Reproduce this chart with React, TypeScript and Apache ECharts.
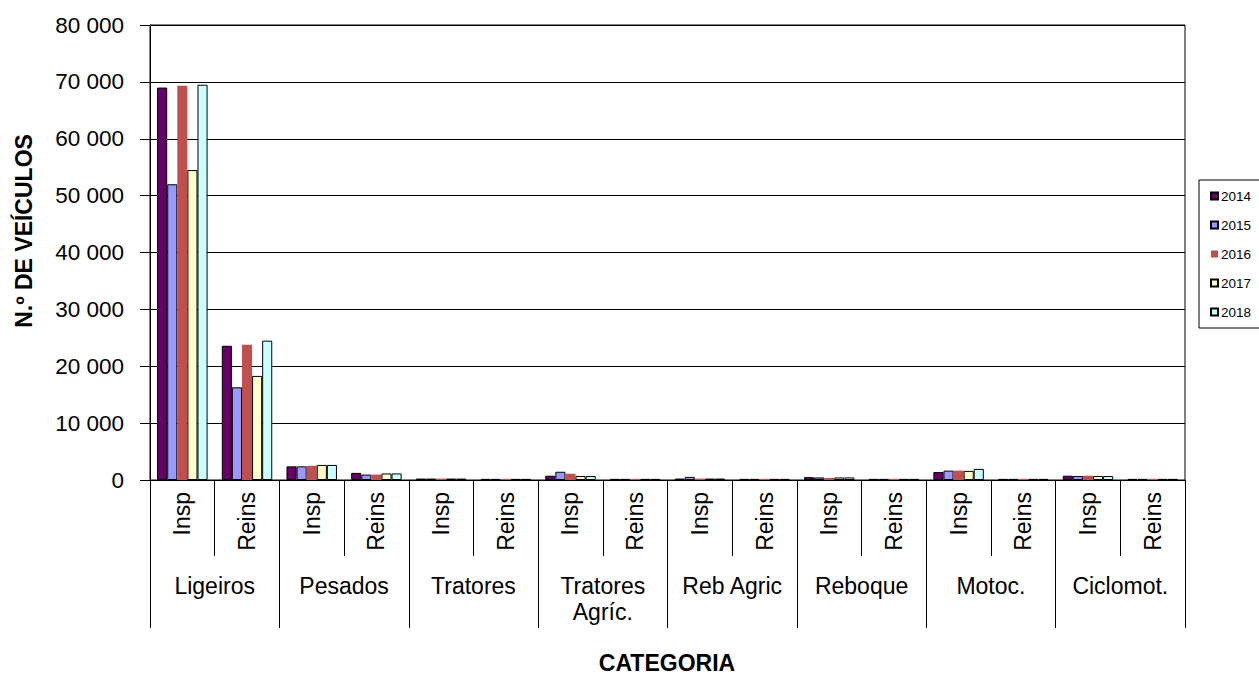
import React, { useEffect, useRef } from "react";
import * as echarts from "echarts";

const groups = ["Ligeiros", "Pesados", "Tratores", "Tratores\nAgríc.", "Reb Agric", "Reboque", "Motoc.", "Ciclomot."];
const subCategories = [
  "Insp", "Reins", "Insp", "Reins", "Insp", "Reins", "Insp", "Reins",
  "Insp", "Reins", "Insp", "Reins", "Insp", "Reins", "Insp", "Reins",
];
const years = ["2014", "2015", "2016", "2017", "2018"];
const values2014 = [69000, 23600, 2400, 1250, 250, 200, 750, 200, 250, 200, 500, 200, 1400, 200, 750, 200];
const values2015 = [52000, 16300, 2400, 950, 250, 200, 1450, 200, 550, 200, 450, 200, 1650, 200, 700, 200];
const values2016 = [69300, 23800, 2500, 950, 250, 200, 1100, 200, 250, 200, 350, 200, 1650, 200, 750, 200];
const values2017 = [54500, 18300, 2650, 1150, 250, 200, 700, 200, 250, 200, 450, 200, 1600, 200, 700, 200];
const values2018 = [69500, 24500, 2650, 1150, 250, 200, 700, 200, 250, 200, 450, 200, 1950, 200, 700, 200];
const yTicks = [0, 10000, 20000, 30000, 40000, 50000, 60000, 70000, 80000];

const seriesValues = [values2014, values2015, values2016, values2017, values2018];
const colors = ["#660066", "#9999FF", "#C0504D", "#FFFFCC", "#CCFFFF"];
const FONT = "'Liberation Sans', Arial, sans-serif";

export default function App() {
  const ref = useRef<HTMLDivElement>(null);
  useEffect(() => {
    if (!ref.current) return;
    const chart = echarts.init(ref.current, null, { renderer: "svg" });
    const fmt = (v: number) => String(v).replace(/\B(?=(\d{3})+(?!\d))/g, " ");
    chart.setOption({
      animation: false,
      textStyle: { fontFamily: FONT, color: "#000" },
      grid: {
        left: 150,
        right: 74,
        top: 25,
        bottom: 195,
        show: true,
        borderColor: "#000",
        borderWidth: 1,
        backgroundColor: "transparent",
      },
      legend: {
        orient: "vertical",
        left: 1199,
        top: 180,
        padding: [9, 40, 9, 11],
        borderColor: "#000",
        borderWidth: 1,
        itemWidth: 7,
        itemHeight: 7,
        itemGap: 15,
        icon: "rect",
        textStyle: { fontFamily: FONT, fontSize: 13.5, color: "#000", padding: [0, 0, 0, -2] },
        data: years,
      },
      xAxis: [
        {
          type: "category",
          data: subCategories,
          position: "bottom",
          axisLine: { show: true, lineStyle: { color: "#000", width: 1 } },
          axisTick: { show: true, length: 76, lineStyle: { color: "#000", width: 1 } },
          axisLabel: {
            interval: 0,
            rotate: 90,
            margin: 12,
            fontSize: 23,
            fontFamily: FONT,
            color: "#000",
          },
        },
        {
          type: "category",
          data: groups,
          position: "bottom",
          axisLine: { show: false },
          axisTick: { show: true, length: 148, lineStyle: { color: "#000", width: 1 } },
          axisLabel: {
            interval: 0,
            margin: 93,
            fontSize: 23,
            lineHeight: 26,
            fontFamily: FONT,
            color: "#000",
            verticalAlign: "top",
          },
        },
      ],
      yAxis: {
        type: "value",
        min: yTicks[0],
        max: yTicks[yTicks.length - 1],
        interval: 10000,
        axisLine: { show: true, lineStyle: { color: "#000", width: 1 } },
        axisTick: { show: true, inside: false, length: 10, lineStyle: { color: "#000" } },
        splitLine: { show: true, lineStyle: { color: "#000", width: 1 } },
        axisLabel: { fontSize: 22.5, fontFamily: FONT, color: "#000", margin: 26, formatter: fmt },
      },
      graphic: [
        {
          type: "text",
          x: 24,
          y: 231,
          rotation: Math.PI / 2,
          style: {
            text: "N.º DE VEÍCULOS",
            font: `bold 23px ${FONT}`,
            fill: "#000",
            textAlign: "center",
            textVerticalAlign: "middle",
          },
        },
        {
          type: "text",
          x: 667,
          y: 663,
          style: {
            text: "CATEGORIA",
            font: `bold 23px ${FONT}`,
            fill: "#000",
            textAlign: "center",
            textVerticalAlign: "middle",
          },
        },
      ],
      series: years.map((y, i) => ({
        name: y,
        type: "bar",
        xAxisIndex: 0,
        data: seriesValues[i],
        barGap: "0%",
        barCategoryGap: "22%",
        itemStyle: {
          color: colors[i],
          borderColor: i === 2 ? colors[i] : "#000",
          borderWidth: i === 2 ? 0 : 1,
        },
      })),
    });
    return () => chart.dispose();
  }, []);
  return (
    <div
      ref={ref}
      style={{ position: "fixed", left: 0, top: 0, width: 1259, height: 675, background: "#fff" }}
    />
  );
}
